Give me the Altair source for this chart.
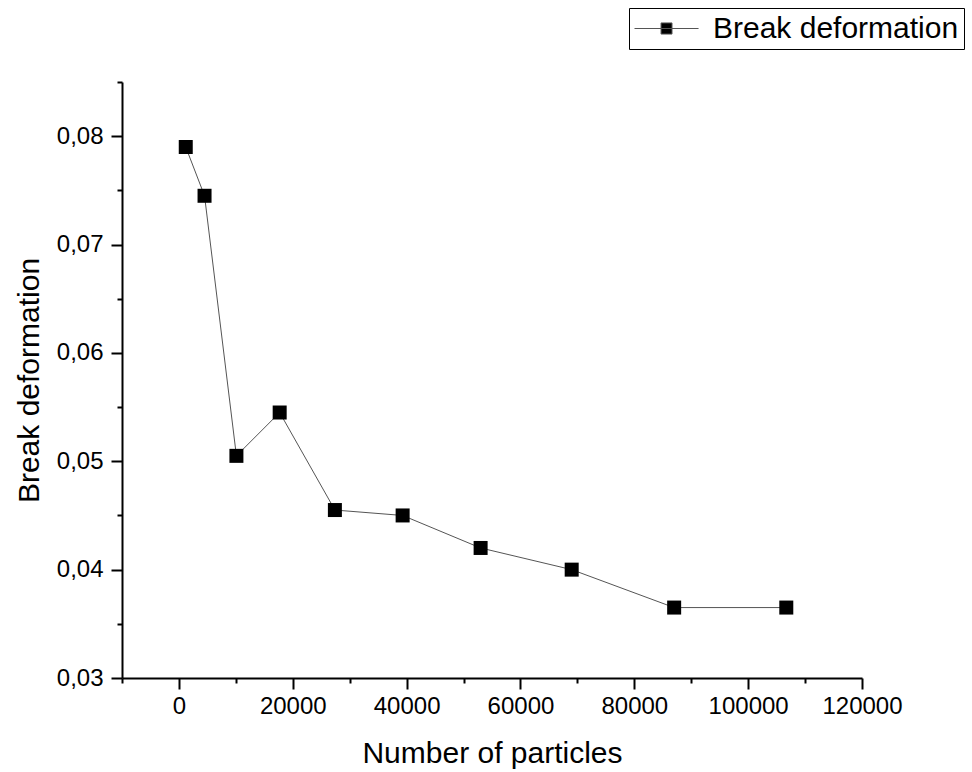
import altair as alt
import pandas as pd

particles = [1200, 4500, 10100, 17700, 27400, 39300, 53000, 69000, 87000, 106700]
deformation = [0.0790, 0.0745, 0.0505, 0.0545, 0.0455, 0.0450, 0.0420, 0.0400, 0.0365, 0.0365]
series = ["Break deformation"] * len(particles)

x_major = [0, 20000, 40000, 60000, 80000, 100000, 120000]
x_minor = [-10000, 10000, 30000, 50000, 70000, 90000, 110000]
y_major = [0.03, 0.04, 0.05, 0.06, 0.07, 0.08]
y_minor = [0.035, 0.045, 0.055, 0.065, 0.075, 0.085]

df = pd.DataFrame({"n": particles, "d": deformation, "s": series})

FONT = "Liberation Sans"
xs = alt.Scale(domain=[-10000, 120000], nice=False, zero=False)
ys = alt.Scale(domain=[0.03, 0.085], nice=False, zero=False)

axis_common = dict(domainColor="black", domainWidth=2, tickColor="black", tickWidth=2,
                   grid=False, labelFont=FONT, labelColor="black", titleFont=FONT,
                   titleColor="black", titleFontWeight="normal")

x_axis = alt.Axis(values=x_major, tickSize=11, labelFontSize=24, labelPadding=5, format="d",
                  title="Number of particles", titleFontSize=30, titlePadding=20,
                  labelFlush=False, orient="bottom", **axis_common)
y_axis = alt.Axis(values=y_major, tickSize=11, labelFontSize=24, labelPadding=8,
                  labelExpr="replace(format(datum.value, '.2f'), '.', ',')",
                  title="Break deformation", titleFontSize=30, titlePadding=12,
                  orient="left", **axis_common)

x_axis_minor = alt.Axis(values=x_minor, tickSize=5, labels=False, domain=False, title=None,
                        orient="bottom", tickColor="black", tickWidth=2, grid=False)
y_axis_minor = alt.Axis(values=y_minor, tickSize=5, labels=False, domain=False, title=None,
                        orient="left", tickColor="black", tickWidth=2, grid=False)

line = alt.Chart(df).mark_line(color="#555555", strokeWidth=1).encode(
    x=alt.X("n:Q", scale=xs, axis=x_axis),
    y=alt.Y("d:Q", scale=ys, axis=y_axis),
)

minor = alt.Chart(df).mark_point(opacity=0).encode(
    x=alt.X("n:Q", scale=xs, axis=x_axis_minor),
    y=alt.Y("d:Q", scale=ys, axis=y_axis_minor),
)

points = alt.Chart(df).mark_point(shape="square", filled=True, size=196, opacity=1).encode(
    x=alt.X("n:Q", scale=xs, axis=None),
    y=alt.Y("d:Q", scale=ys, axis=None),
    color=alt.Color("s:N", scale=alt.Scale(range=["black"]),
                    legend=alt.Legend(
                        title=None, orient="none", legendX=507, legendY=-74,
                        symbolType="M-1,0H3.27M0.77,-0.37H1.5V0.37H0.77Z",
                        symbolSize=900, symbolStrokeWidth=1, symbolStrokeColor="#555555",
                        symbolFillColor="black", labelFont=FONT, labelFontSize=30,
                        labelColor="black", labelOffset=48, labelLimit=400,
                        strokeColor="black", padding=5, fillColor="white")),
)

chart = alt.layer(minor, line, points).resolve_axis(x="independent", y="independent").properties(
    width=740, height=596,
    background="white",
    autosize=alt.AutoSizeParams(type="none"),
    padding={"left": 122, "top": 82, "right": 110, "bottom": 94},
).configure_view(strokeWidth=0, stroke=None)

chart.save("out.html", embed_options={"renderer": "svg", "actions": False})
